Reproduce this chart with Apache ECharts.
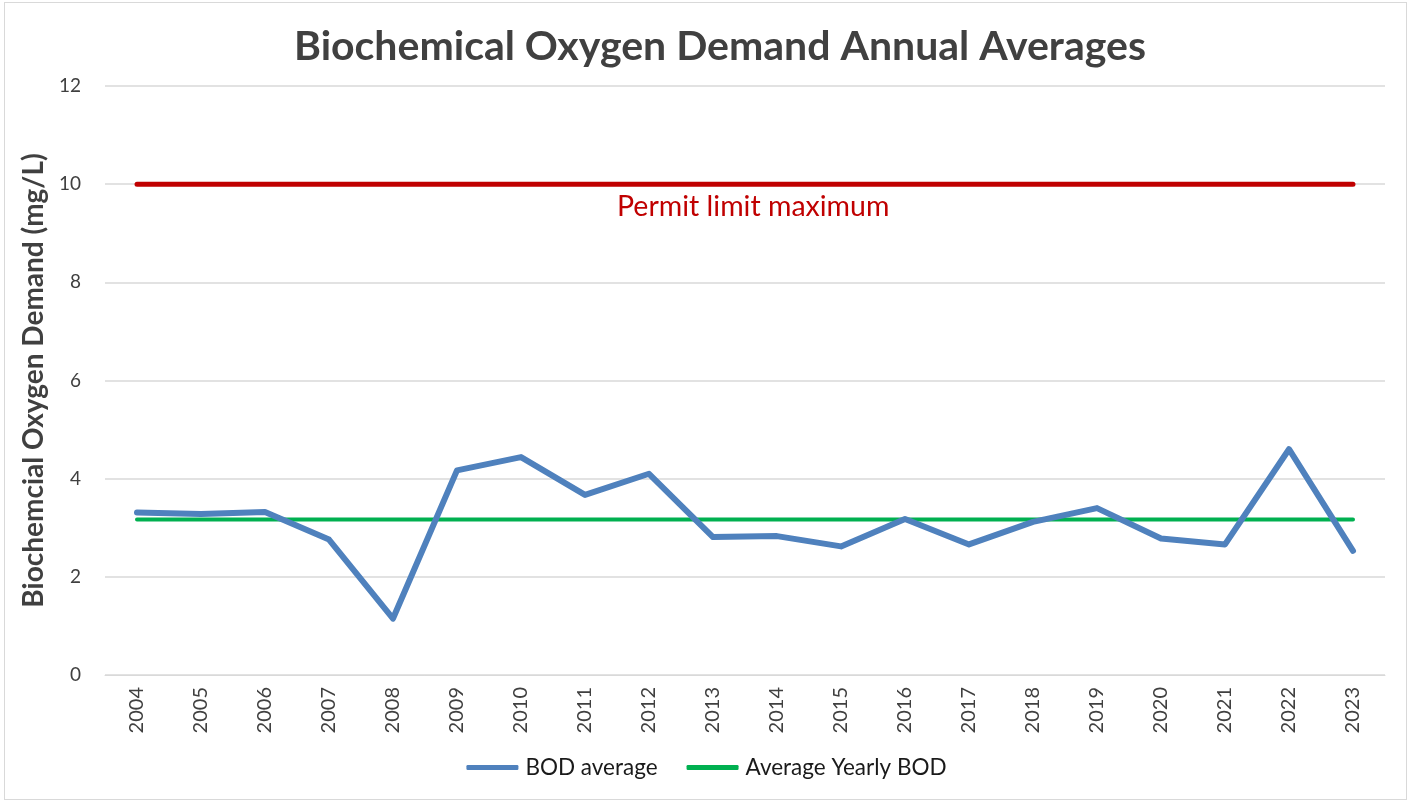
<!DOCTYPE html>
<html>
<head>
<meta charset="utf-8">
<script src="https://cdn.jsdelivr.net/npm/echarts@6/dist/echarts.min.js"></script>
<style>
html,body{margin:0;padding:0;background:#fff;}
#frame{position:absolute;left:4px;top:2px;width:1403px;height:798px;border:1px solid #d9d9d9;box-sizing:border-box;}
#chart{position:absolute;left:0;top:0;width:1413px;height:806px;}
</style>
</head>
<body>
<div id="frame"></div>
<div id="chart"></div>
<script>
const years = ['2004','2005','2006','2007','2008','2009','2010','2011','2012','2013','2014','2015','2016','2017','2018','2019','2020','2021','2022','2023'];
const bodAverage = [3.31,3.28,3.32,2.76,1.15,4.17,4.44,3.67,4.10,2.81,2.83,2.62,3.18,2.66,3.12,3.40,2.78,2.66,4.60,2.53];
const averageYearlyBOD = [3.17,3.17,3.17,3.17,3.17,3.17,3.17,3.17,3.17,3.17,3.17,3.17,3.17,3.17,3.17,3.17,3.17,3.17,3.17,3.17];
const permitLimit = [10,10,10,10,10,10,10,10,10,10,10,10,10,10,10,10,10,10,10,10];
const yTicks = {min:0, max:12, interval:2};

const font = 'Lato, "Open Sans", sans-serif';
const chart = echarts.init(document.getElementById('chart'), null, {renderer:'canvas'});
chart.setOption({
  backgroundColor:'transparent',
  animation:false,
  title:{
    text:'Biochemical Oxygen Demand Annual Averages',
    left:289, top:21,
    textStyle:{fontFamily:font, fontSize:41, fontWeight:'bold', color:'#404040'}
  },
  grid:{left:105, right:28, top:86, bottom:131, containLabel:false},
  legend:{
    bottom:22, left:'center', itemGap:29, itemWidth:52, itemHeight:5, icon:'roundRect',
    data:[
      {name:'BOD average', itemStyle:{color:'#4F81BD'}},
      {name:'Average Yearly BOD', itemStyle:{color:'#00B050'}}
    ],
    textStyle:{fontFamily:font, fontSize:22.5, color:'#1a1a1a', padding:[0,0,0,2]}
  },
  xAxis:{
    type:'category', data:years, boundaryGap:true,
    axisLine:{show:true, lineStyle:{color:'#d9d9d9', width:1}},
    axisTick:{show:false},
    axisLabel:{rotate:90, fontFamily:font, fontSize:20, color:'#404040', margin:12}
  },
  yAxis:{
    type:'value', min:yTicks.min, max:yTicks.max, interval:yTicks.interval,
    name:'Biochemcial Oxygen Demand (mg/L)', nameLocation:'middle', nameGap:57,
    nameTextStyle:{fontFamily:font, fontSize:28, fontWeight:'bold', color:'#404040'},
    axisLine:{show:false}, axisTick:{show:false},
    axisLabel:{fontFamily:font, fontSize:19, color:'#404040', margin:24},
    splitLine:{lineStyle:{color:'#d9d9d9', width:1.5}}
  },
  series:[
    {
      name:'Permit limit maximum', type:'line', data:permitLimit, symbol:'none',
      lineStyle:{color:'#C00000', width:5, cap:'round'}, itemStyle:{color:'#C00000'}, z:3
    },
    {
      name:'BOD average', type:'line', data:bodAverage, symbol:'none',
      lineStyle:{color:'#4F81BD', width:6, cap:'round', join:'round'}, itemStyle:{color:'#4F81BD'}, z:4
    },
    {
      name:'Average Yearly BOD', type:'line', data:averageYearlyBOD, symbol:'none',
      lineStyle:{color:'#00B050', width:4, cap:'round'}, itemStyle:{color:'#00B050'}, z:3
    }
  ],
  graphic:[{
    type:'text', left:617, top:192,
    style:{text:'Permit limit maximum', fill:'#C00000', font:'28.5px ' + font}
  }]
});
</script>
</body>
</html>
